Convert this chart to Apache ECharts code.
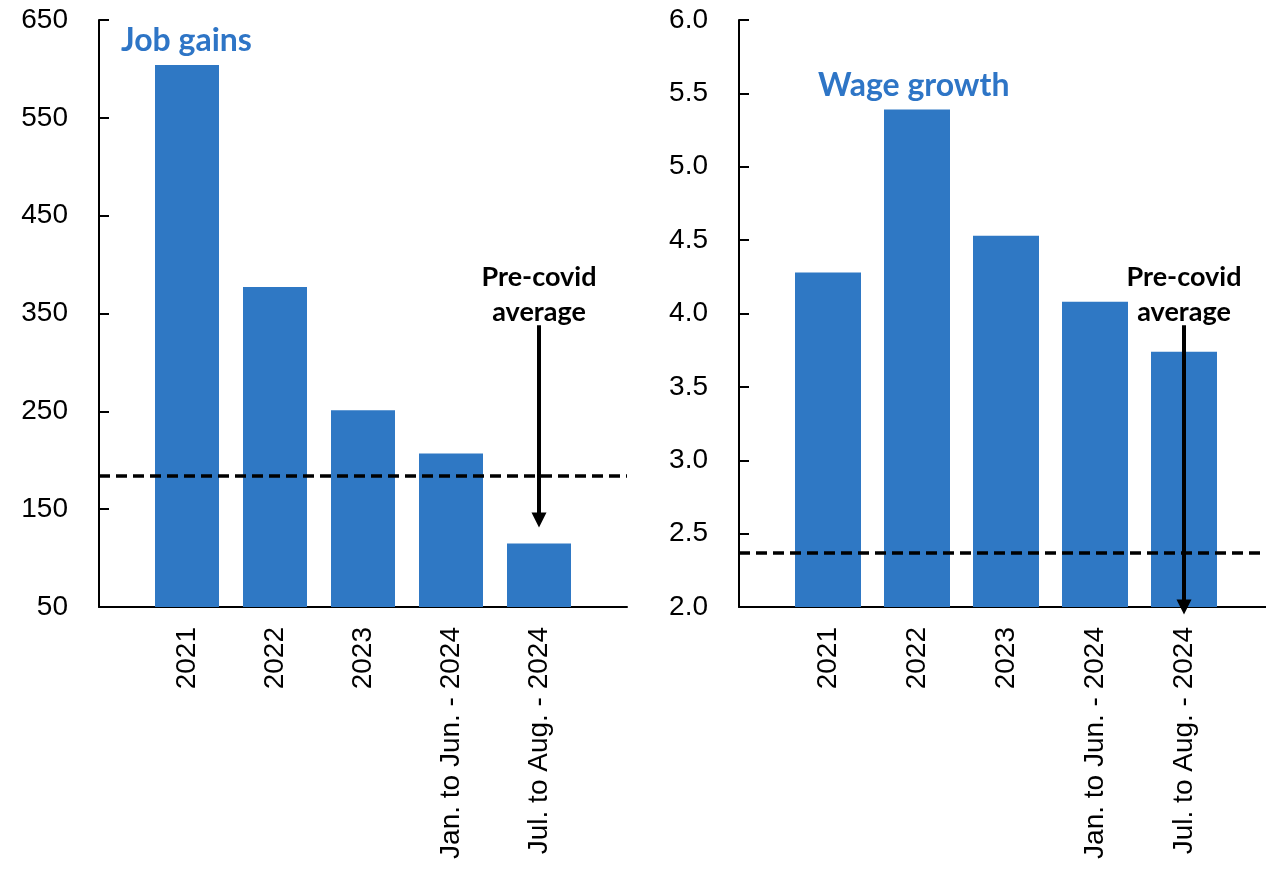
<!DOCTYPE html>
<html>
<head>
<meta charset="utf-8">
<script src="https://cdn.jsdelivr.net/npm/echarts@6/dist/echarts.min.js"></script>
<style>
  html, body { margin: 0; padding: 0; background: #fff; overflow: hidden; }
  #chart { width: 1280px; height: 869px; }
</style>
</head>
<body>
<div id="chart"></div>
<script>
// Categories (blank slots pad both ends of each panel)
const categories = ['', '2021', '2022', '2023', 'Jan. to Jun. - 2024', 'Jul. to Aug. - 2024', ''];

// Monthly job gains, thousands
const jobGains = [null, 604, 377, 251, 207, 115, null];
// Wage growth, percent
const wageGrowth = [null, 4.28, 5.39, 4.53, 4.08, 3.74, null];

// Pre-covid averages
const precovidJobs = 184;
const precovidWage = 2.37;

// Axis ticks
const jobTicks = [50, 150, 250, 350, 450, 550, 650];
const wageTicks = [2.0, 2.5, 3.0, 3.5, 4.0, 4.5, 5.0, 5.5, 6.0];

// Arrow annotation end points (value units)
const jobArrow = [338, 139];
const wageArrow = [3.92, 2.0];

const BLUE = '#2F78C4';
const TICK_FONT = { fontFamily: 'Liberation Sans', fontSize: 28, color: '#000' };

function xAxis(gridIndex) {
  return {
    type: 'category', gridIndex, data: categories, boundaryGap: false,
    axisLine: { lineStyle: { color: '#000', width: 2 } },
    axisTick: { show: false },
    axisLabel: Object.assign({ rotate: 90, interval: 0, margin: 20 }, TICK_FONT)
  };
}

function yAxis(gridIndex, min, max, ticks, digits) {
  return {
    type: 'value', gridIndex, min, max,
    splitLine: { show: false },
    axisLine: { show: true, lineStyle: { color: '#000', width: 2 } },
    axisTick: { show: true, inside: true, length: 10, lineStyle: { color: '#000', width: 2 }, customValues: ticks },
    axisLabel: Object.assign({ margin: 31, customValues: ticks,
      formatter: v => v.toFixed(digits) }, TICK_FONT)
  };
}

function arrow(xi, yi, pts) {
  return {
    type: 'line', xAxisIndex: xi, yAxisIndex: yi, data: [], clip: false, silent: true,
    markLine: {
      silent: true, symbol: ['none', 'triangle'], symbolSize: 15,
      lineStyle: { color: '#000', width: 4, type: 'solid' },
      label: {
        show: true, position: 'start', distance: -5,
        formatter: 'Pre-covid\naverage',
        fontFamily: 'Lato', fontWeight: 'bold', fontSize: 27, lineHeight: 35, color: '#000'
      },
      data: [[
        { coord: ['Jul. to Aug. - 2024', pts[0]] },
        { coord: ['Jul. to Aug. - 2024', pts[1]] }
      ]]
    }
  };
}

function dashed(value) {
  return {
    silent: true, symbol: 'none',
    lineStyle: { color: '#000', width: 3.5, type: [11, 6] },
    label: { show: false },
    data: [{ yAxis: value }]
  };
}

const TITLE_STYLE = { fontFamily: 'Lato', fontWeight: 'bold', fontSize: 32, color: '#2E75C6' };

const chart = echarts.init(document.getElementById('chart'));
chart.setOption({
  animation: false,
  title: [
    { text: 'Job gains', left: 121, top: 25, padding: 0, textStyle: TITLE_STYLE },
    { text: 'Wage growth', left: 818, top: 70, padding: 0, textStyle: TITLE_STYLE }
  ],
  grid: [
    { left: 99, top: 20, width: 528, height: 587 },
    { left: 739, top: 20, width: 534, height: 587 }
  ],
  xAxis: [xAxis(0), xAxis(1)],
  yAxis: [yAxis(0, 50, 650, jobTicks, 0), yAxis(1, 2, 6, wageTicks, 1)],
  series: [
    { type: 'bar', xAxisIndex: 0, yAxisIndex: 0, data: jobGains, barWidth: 64,
      itemStyle: { color: BLUE }, markLine: dashed(precovidJobs) },
    { type: 'bar', xAxisIndex: 1, yAxisIndex: 1, data: wageGrowth, barWidth: 66,
      itemStyle: { color: BLUE }, markLine: dashed(precovidWage) },
    arrow(0, 0, jobArrow),
    arrow(1, 1, wageArrow)
  ]
});
</script>
</body>
</html>
